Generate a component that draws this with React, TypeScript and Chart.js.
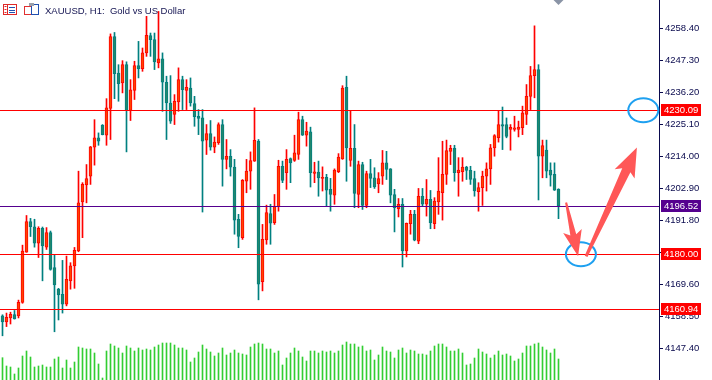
import React, { useEffect, useRef } from 'react';
import { Chart, registerables } from 'chart.js';
Chart.register(...registerables);

const TITLE = 'XAUUSD, H1:  Gold vs US Dollar';

const opens = [4158.6,4156.5,4157.9,4159.1,4158.6,4163.3,4180.8,4191.4,4189.6,4183.9,4189.0,4182.5,4187.6,4175.4,4167.9,4166.1,4162.7,4170.8,4176.0,4181.2,4198.2,4204.1,4207.2,4217.2,4220.5,4224.8,4221.4,4230.7,4255.7,4243.0,4239.6,4245.9,4230.0,4237.0,4245.6,4244.5,4250.0,4256.0,4254.6,4246.5,4247.9,4239.8,4232.6,4228.6,4233.0,4240.7,4237.0,4237.8,4232.4,4228.0,4227.4,4219.7,4222.0,4217.2,4218.8,4225.1,4213.0,4214.1,4210.3,4192.2,4185.8,4205.4,4208.9,4212.4,4219.3,4170.5,4185.0,4194.2,4191.0,4196.6,4210.6,4208.4,4213.3,4212.6,4214.7,4226.8,4221.4,4222.6,4208.1,4208.6,4206.4,4206.8,4202.6,4200.6,4208.7,4213.2,4238.0,4212.6,4216.8,4200.8,4211.2,4197.0,4208.1,4206.6,4204.5,4207.2,4211.8,4209.7,4200.8,4195.9,4197.4,4181.2,4190.7,4193.9,4184.6,4200.2,4197.4,4199.1,4190.7,4198.2,4201.4,4207.8,4215.8,4216.8,4208.4,4208.7,4210.3,4209.2,4206.3,4201.8,4203.2,4207.2,4209.7,4217.0,4220.5,4225.1,4225.1,4223.4,4223.4,4223.4,4224.0,4228.6,4234.9,4242.1,4244.2,4214.1,4216.2,4209.3,4207.8,4202.6];
const highs = [4159.0,4159.6,4159.9,4160.5,4164.1,4183.2,4193.5,4192.5,4192.2,4189.6,4189.5,4189.3,4188.1,4180.0,4168.2,4177.9,4179.4,4177.1,4182.4,4208.9,4204.9,4211.2,4217.5,4226.8,4222.2,4225.1,4234.1,4256.6,4257.1,4245.9,4247.3,4246.9,4240.7,4247.1,4254.0,4251.7,4262.7,4256.9,4256.9,4264.4,4250.0,4241.9,4242.1,4235.5,4244.8,4241.9,4240.7,4241.3,4234.9,4230.3,4230.3,4225.1,4226.5,4220.8,4225.7,4226.8,4219.9,4216.4,4213.0,4193.9,4206.0,4213.0,4215.6,4230.9,4219.9,4190.4,4197.1,4197.4,4200.8,4212.7,4212.4,4216.4,4213.5,4221.4,4229.4,4228.0,4225.9,4224.2,4212.0,4212.4,4210.4,4207.8,4206.4,4209.7,4215.0,4238.6,4241.9,4229.7,4225.1,4212.4,4212.0,4208.9,4213.0,4210.1,4208.4,4216.1,4215.8,4209.8,4202.6,4199.4,4199.4,4190.9,4195.3,4195.3,4202.9,4202.9,4206.0,4202.2,4199.7,4213.6,4219.3,4219.7,4217.9,4217.9,4213.6,4213.6,4210.6,4210.6,4208.9,4204.9,4208.9,4211.8,4218.2,4221.6,4229.7,4231.2,4227.4,4225.1,4228.0,4226.3,4231.5,4239.0,4245.3,4259.4,4245.9,4219.7,4219.7,4211.8,4211.8,4202.8];
const lows = [4151.7,4154.9,4155.8,4157.5,4157.9,4163.0,4180.7,4186.2,4182.5,4178.9,4170.8,4181.7,4174.5,4153.1,4157.2,4159.6,4162.1,4167.9,4168.2,4180.9,4185.8,4197.9,4204.3,4211.0,4217.9,4221.5,4217.9,4219.9,4234.1,4233.2,4236.1,4215.6,4226.5,4233.8,4241.3,4243.6,4248.8,4248.8,4244.2,4244.8,4229.7,4219.9,4225.5,4225.1,4229.7,4230.3,4230.3,4231.5,4224.5,4221.6,4194.7,4214.7,4216.2,4215.3,4218.2,4203.7,4209.7,4207.2,4187.0,4182.3,4185.2,4201.4,4202.6,4212.3,4164.2,4167.3,4183.5,4183.5,4190.4,4195.0,4204.9,4202.6,4204.9,4212.3,4213.0,4221.3,4217.6,4203.4,4204.9,4200.2,4202.0,4196.8,4195.0,4197.4,4208.4,4213.0,4205.4,4210.6,4196.2,4196.2,4195.6,4196.2,4203.2,4202.9,4201.4,4204.3,4206.0,4197.9,4187.8,4193.0,4175.6,4179.1,4187.0,4184.7,4183.7,4196.6,4193.3,4188.9,4188.9,4193.9,4191.9,4204.3,4211.2,4205.4,4200.2,4205.4,4206.0,4204.3,4200.2,4195.0,4197.0,4202.0,4204.3,4214.1,4219.0,4216.4,4220.5,4216.2,4222.8,4220.8,4221.6,4225.1,4230.3,4234.4,4198.9,4206.6,4206.6,4203.7,4202.2,4192.4];
const closes = [4156.5,4158.1,4159.2,4157.6,4163.3,4181.1,4191.4,4189.6,4183.9,4189.0,4182.9,4187.6,4174.8,4169.4,4165.9,4162.7,4171.3,4176.0,4181.4,4197.9,4204.3,4206.3,4217.4,4220.5,4219.3,4221.6,4230.9,4255.7,4242.8,4239.3,4245.9,4230.0,4237.2,4245.6,4244.5,4250.0,4256.1,4254.6,4246.9,4247.9,4239.8,4232.6,4226.3,4233.2,4240.7,4237.2,4238.0,4232.6,4227.8,4227.2,4219.3,4222.0,4217.2,4219.0,4225.1,4213.0,4214.1,4210.3,4191.9,4186.2,4205.7,4208.9,4212.6,4219.6,4169.6,4185.2,4194.5,4190.8,4196.6,4210.6,4205.7,4213.0,4211.8,4215.3,4226.8,4221.4,4222.8,4208.4,4208.7,4206.6,4206.8,4202.3,4200.8,4209.3,4213.8,4237.8,4217.0,4216.8,4201.2,4211.2,4197.0,4208.1,4206.4,4203.4,4206.3,4211.8,4209.5,4200.6,4196.2,4197.4,4181.2,4190.8,4193.9,4184.9,4200.2,4197.4,4199.1,4191.0,4198.5,4202.0,4207.8,4216.1,4216.8,4208.4,4209.3,4210.3,4209.2,4206.0,4202.0,4203.2,4207.2,4209.7,4217.0,4221.3,4225.1,4224.5,4221.0,4224.1,4224.0,4224.2,4229.2,4234.9,4242.1,4244.2,4214.1,4217.8,4208.9,4207.5,4202.3,4196.8];
const volumes = [2230,1400,1300,600,1200,2400,2900,2300,1300,1400,1500,1300,1300,2100,2300,1200,2000,1200,1800,3300,3200,3100,3100,2700,1600,200,2900,3600,3400,3200,2700,3400,3200,2900,3200,3000,3100,3000,3300,3500,3700,3700,3700,3500,3200,3200,3000,1800,2200,2800,3500,3100,2800,2400,2700,3200,2500,2700,3000,2700,2600,2500,3300,3600,3700,3600,3100,3100,2700,2900,1500,2200,2700,3200,2900,2300,1900,2900,2900,2700,2900,2800,2900,2700,2900,3500,3800,3600,3600,3300,3400,2900,3000,2000,2500,3300,2900,2800,2200,3000,3200,2700,3000,2900,2600,2600,2500,2900,3400,3600,3600,3300,2900,2900,3100,2700,1500,1600,2200,3100,2800,2600,2200,2500,2900,2500,2600,2400,1900,2100,2700,3400,3400,3600,3700,3300,3000,2700,3100,2100];

const tickValues = [4147.40, 4158.50, 4169.60, 4180.70, 4191.80, 4202.90, 4214.00, 4225.10, 4236.20, 4247.30, 4258.40];
const levelPrices = [4230.09, 4196.52, 4180.00, 4160.94];
const levelColors = ['#ff0000', '#55008f', '#ff0000', '#ff0000'];

// annotations anchored in (bar index, price)
const circleCenters = [[160.2, 4230.09], [144.6, 4180.0]];
const arrowTails = [[140.9, 4198.0], [145.9, 4179.3]];
const arrowTips = [[143.9, 4179.3], [158.6, 4217.1]];

const AXIS_COLOR = '#0a0a4e';

function drawArrow(ctx: CanvasRenderingContext2D, x0: number, y0: number, x1: number, y1: number, headLen: number, headW: number, neckW: number, tailW: number) {
  const dx = x1 - x0, dy = y1 - y0;
  const len = Math.hypot(dx, dy);
  const ux = dx / len, uy = dy / len;
  const nx = -uy, ny = ux;
  const bx = x1 - ux * headLen, by = y1 - uy * headLen;
  const wx = bx - ux * 4, wy = by - uy * 4;
  ctx.beginPath();
  ctx.moveTo(x0 + nx * tailW, y0 + ny * tailW);
  ctx.lineTo(bx + nx * neckW, by + ny * neckW);
  ctx.lineTo(wx + nx * headW, wy + ny * headW);
  ctx.lineTo(x1, y1);
  ctx.lineTo(wx - nx * headW, wy - ny * headW);
  ctx.lineTo(bx - nx * neckW, by - ny * neckW);
  ctx.lineTo(x0 - nx * tailW, y0 - ny * tailW);
  ctx.closePath();
  ctx.fill();
}

const overlay = {
  id: 'overlay',
  afterDatasetsDraw(chart: any) {
    const { ctx, chartArea, scales } = chart;
    const xs = scales.x, ys = scales.y;
    ctx.save();
    levelPrices.forEach((p, k) => {
      const y = Math.floor(ys.getPixelForValue(p));
      ctx.fillStyle = levelColors[k];
      ctx.fillRect(chartArea.left, y, chartArea.right - chartArea.left, 1);
    });
    // ellipses
    ctx.strokeStyle = '#1ea0f0';
    ctx.lineWidth = 2;
    circleCenters.forEach(([i, p]) => {
      const cx = xs.getPixelForValue(i), cy = ys.getPixelForValue(p);
      ctx.beginPath();
      ctx.ellipse(cx, cy, 15, 12, 0, 0, Math.PI * 2);
      ctx.stroke();
    });
    // arrows
    ctx.fillStyle = '#ff5757';
    arrowTails.forEach(([i0, p0], k) => {
      const [i1, p1] = arrowTips[k];
      const x0 = xs.getPixelForValue(i0), y0 = ys.getPixelForValue(p0);
      const x1 = xs.getPixelForValue(i1), y1 = ys.getPixelForValue(p1);
      if (k === 0) drawArrow(ctx, x0, y0, x1, y1, 22, 9.5, 3, 1);
      else drawArrow(ctx, x0, y0, x1, y1, 25, 11, 4.5, 1.5);
    });
    // chart shift marker
    const sx = xs.getPixelForValue(opens.length - 1);
    ctx.fillStyle = '#8a94a6';
    ctx.beginPath();
    ctx.moveTo(sx - 5, chartArea.top);
    ctx.lineTo(sx + 5, chartArea.top);
    ctx.lineTo(sx, chartArea.top + 5);
    ctx.closePath();
    ctx.fill();
    ctx.restore();
  },
  afterDraw(chart: any) {
    const { ctx, chartArea, scales } = chart;
    const ys = scales.y;
    ctx.save();
    // price boxes
    ctx.font = "9.5px 'Liberation Sans'";
    ctx.textBaseline = 'middle';
    ctx.textAlign = 'left';
    levelPrices.forEach((p, k) => {
      const y = Math.floor(ys.getPixelForValue(p));
      ctx.fillStyle = levelColors[k];
      ctx.fillRect(chartArea.right + 2, y - 6, 40, 12);
      ctx.fillStyle = '#ffffff';
      ctx.fillText(p.toFixed(2), chartArea.right + 5, y + 0.5);
    });
    // icons
    ctx.lineWidth = 1;
    ctx.strokeStyle = '#e02828';
    ctx.strokeRect(3.5, 4.5, 13, 10);
    ctx.beginPath();
    ctx.moveTo(7.5, 4.5); ctx.lineTo(7.5, 14.5);
    ctx.stroke();
    ctx.strokeStyle = '#2050b0';
    ctx.beginPath();
    [7.5, 10.5, 12.5].forEach((yy) => { ctx.moveTo(9, yy); ctx.lineTo(15, yy); });
    ctx.stroke();
    ctx.fillStyle = '#e02828';
    ctx.fillRect(4.5, 6, 2, 1); ctx.fillRect(4.5, 9, 2, 1); ctx.fillRect(4.5, 12, 2, 1);
    ctx.strokeStyle = '#e03030';
    ctx.strokeRect(24.5, 6.5, 7, 8);
    ctx.strokeStyle = '#2050b0';
    ctx.strokeRect(31.5, 4.5, 7, 10);
    ctx.fillStyle = '#9aa0aa';
    ctx.fillRect(29, 3, 5, 3);
    // title
    ctx.fillStyle = '#141452';
    ctx.font = "9.5px 'Liberation Sans'";
    ctx.textBaseline = 'alphabetic';
    ctx.fillText(TITLE, 45, 14);
    ctx.restore();
  },
};

export default function App() {
  const ref = useRef<HTMLCanvasElement | null>(null);
  useEffect(() => {
    if (!ref.current) return;
    const idx = opens.map((_, i) => i);
    const bull = idx.map((i) => closes[i] >= opens[i]);
    const chart = new Chart(ref.current, {
      type: 'bar',
      data: {
        datasets: [
          {
            label: 'body',
            data: idx.map((i) => ({ x: i, y: [opens[i], closes[i]] })) as any,
            backgroundColor: bull.map((b) => (b ? '#ff4500' : '#23876c')),
            borderColor: bull.map((b) => (b ? '#ff0000' : '#008080')),
            borderWidth: 1,
            borderSkipped: false,
            barThickness: 3,
            minBarLength: 1,
            grouped: false,
            xAxisID: 'x',
            yAxisID: 'y',
            order: 1,
          } as any,
          {
            label: 'wick',
            data: idx.map((i) => ({ x: i, y: [lows[i], highs[i]] })) as any,
            backgroundColor: bull.map((b) => (b ? '#ff0000' : '#008080')),
            borderWidth: 0,
            barThickness: 1,
            grouped: false,
            xAxisID: 'x',
            yAxisID: 'y',
            order: 2,
          } as any,
          {
            label: 'volume',
            data: idx.map((i) => ({ x: i, y: volumes[i] })) as any,
            backgroundColor: '#32cd32',
            borderWidth: 0,
            barThickness: 1,
            grouped: false,
            xAxisID: 'x',
            yAxisID: 'yv',
            order: 3,
          } as any,
        ],
      },
      options: {
        animation: false,
        responsive: false,
        devicePixelRatio: 1,
        events: [],
        layout: { padding: 0 },
        plugins: { legend: { display: false }, tooltip: { enabled: false }, title: { display: false } },
        scales: {
          x: { type: 'linear', min: -0.625, max: 164.125, display: false, offset: false, grid: { display: false } },
          y: {
            type: 'linear',
            position: 'right',
            min: 4136.34,
            max: 4268.38,
            afterBuildTicks: (s: any) => { s.ticks = tickValues.map((v) => ({ value: v })); },
            afterFit: (s: any) => { s.width = 53; s.paddingTop = 0; s.paddingBottom = 0; },
            ticks: {
              autoSkip: false,
              padding: 2,
              color: AXIS_COLOR,
              font: { family: 'Liberation Sans', size: 9.5 },
              callback: (v: any) => Number(v).toFixed(2),
            },
            grid: { drawOnChartArea: false, drawTicks: true, tickLength: 4, tickColor: AXIS_COLOR, tickWidth: 1 },
            border: { display: true, color: AXIS_COLOR, width: 1 },
          },
          yv: { type: 'linear', position: 'left', display: false, min: 0, max: 38000 },
        },
      } as any,
      plugins: [overlay],
    });
    return () => chart.destroy();
  }, []);
  return (
    <div style={{ position: 'fixed', left: 0, top: 0, width: 712, height: 380, background: '#ffffff', overflow: 'hidden' }}>
      <canvas ref={ref} width={712} height={380} style={{ display: 'block' }} />
    </div>
  );
}
